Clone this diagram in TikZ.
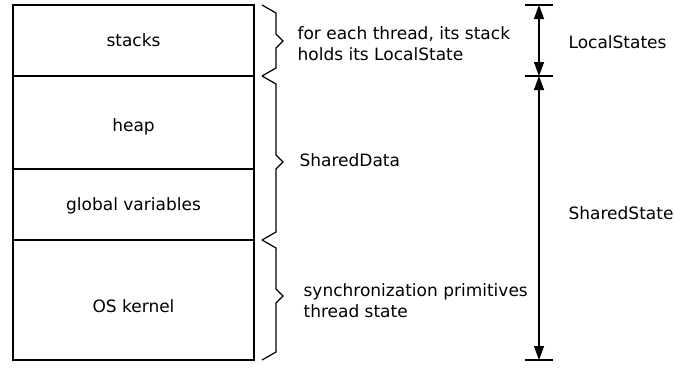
\documentclass[tikz,border=0pt]{standalone}
\usepackage{fontspec}
\setmainfont{DejaVu Sans}
\usetikzlibrary{arrows.meta}
\begin{document}
\begin{tikzpicture}[x=1bp,y=-1bp, line width=1.2bp,
  seg/.style={draw, minimum width=241bp, inner sep=0pt, outer sep=0pt},
  lbl/.style={font=\fontsize{17bp}{21.5bp}\selectfont, inner sep=0pt},
  brace/.style={line join=miter},
  dim/.style={{Triangle[length=14bp,width=10bp]}-{Triangle[length=14bp,width=10bp]}}]
\useasboundingbox (0,0) rectangle (675,367);
% memory segments
\node[seg, minimum height=71bp]  (stacks) at (133.5,40.5) {};
\node[seg, minimum height=93bp]  (heap)   at (133.5,122.5) {};
\node[seg, minimum height=71bp]  (global) at (133.5,204.5) {};
\node[seg, minimum height=120bp] (kernel) at (133.5,300) {};
\node[lbl, anchor=base] (stackstxt)  at (133.5,46)  {stacks};
\node[lbl, anchor=base] (heaptxt)    at (133.5,131) {heap};
\node[lbl, anchor=base] (globaltxt)  at (133.5,210) {global variables};
\node[lbl, anchor=base] (kerneltxt)  at (133.5,312) {OS kernel};
% braces
\draw[brace] (262,5) -- (276,13) -- (276,34) -- (283,41) -- (276,48) -- (276,68) -- (262,76);
\draw[brace] (262,76) -- (276,84) -- (276,155) -- (283,162) -- (276,169) -- (276,232) -- (262,240);
\draw[brace] (262,240) -- (276,248) -- (276,289) -- (283,296) -- (276,303) -- (276,352) -- (262,360);
% brace labels
\node[lbl, align=left, anchor=base west] (localtxt) at (297,60.5) {for each thread, its stack\\holds its LocalState};
\node[lbl, anchor=base west] (shareddata) at (299,166) {SharedData};
\node[lbl, align=left, anchor=base west] (synctxt) at (303,317.5) {synchronization primitives\\thread state};
% dimension arrows
\coordinate (t0) at (539,5);
\coordinate (t1) at (539,76);
\coordinate (t2) at (539,360);
\draw ([xshift=-14bp]t0) -- ([xshift=14bp]t0);
\draw ([xshift=-14bp]t1) -- ([xshift=14bp]t1);
\draw ([xshift=-14bp]t2) -- ([xshift=14bp]t2);
\draw[dim] (t0) -- (t1);
\draw[dim] (t1) -- (t2);
\node[lbl, anchor=base west] (localstates) at (568,48) {LocalStates};
\node[lbl, anchor=base west] (sharedstate) at (568,219) {SharedState};
\end{tikzpicture}
\end{document}
